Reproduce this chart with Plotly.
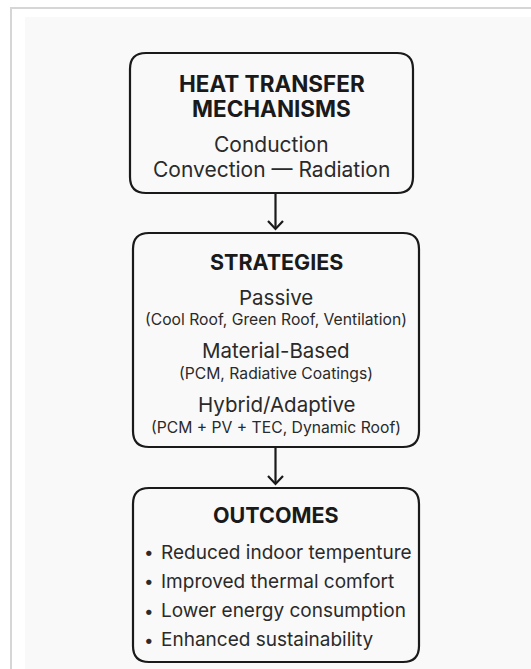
import plotly.graph_objects as go

W, H = 531, 669

# ---- content ----
box_titles = ["HEAT TRANSFER<br>MECHANISMS", "STRATEGIES", "OUTCOMES"]
mech_lines = ["Conduction", "Convection — Radiation"]
strategy_names = ["Passive", "Material-Based", "Hybrid/Adaptive"]
strategy_details = ["(Cool Roof, Green Roof, Ventilation)",
                    "(PCM, Radiative Coatings)",
                    "(PCM + PV + TEC, Dynamic Roof)"]
outcome_items = ["Reduced indoor tempenture", "Improved thermal comfort",
                 "Lower energy consumption", "Enhanced sustainability"]

# ---- layout geometry (pixels, y downward) ----
boxes = [(130, 53, 413, 193), (133, 233, 419, 447), (133, 488, 419, 662)]
FONT = "Inter, Roboto, Arial, sans-serif"
INK = "#1a1a1a"
TXT = "#2a2a2a"

def rrect(x0, y0, x1, y1, r=16):
    return (f"M{x0+r},{y0} L{x1-r},{y0} Q{x1},{y0} {x1},{y0+r} "
            f"L{x1},{y1-r} Q{x1},{y1} {x1-r},{y1} L{x0+r},{y1} "
            f"Q{x0},{y1} {x0},{y1-r} L{x0},{y0+r} Q{x0},{y0} {x0+r},{y0} Z")

shapes = []
# page frame
shapes.append(dict(type="rect", x0=25, y0=17, x1=W + 5, y1=H + 5,
                   line=dict(width=0), fillcolor="#f9f9f9", layer="below"))
shapes.append(dict(type="path", path=f"M11,{H+5} L11,8 L{W+5},8",
                   line=dict(color="#d6d6d6", width=2)))
for b in boxes:
    shapes.append(dict(type="path", path=rrect(*b), line=dict(color=INK, width=2.2),
                       fillcolor="rgba(0,0,0,0)"))

# arrows between boxes
for (a, b) in [(boxes[0], boxes[1]), (boxes[1], boxes[2])]:
    cx = (b[0] + b[2]) / 2 - 0.5
    y_start, y_tip = a[3], b[1] - 4
    shapes.append(dict(type="line", x0=cx, x1=cx, y0=y_start, y1=y_tip,
                       line=dict(color=INK, width=2.2)))
    shapes.append(dict(type="path",
                       path=f"M{cx-7.5},{y_tip-8} L{cx},{y_tip} L{cx+7.5},{y_tip-8}",
                       line=dict(color=INK, width=2.2)))

ann = []
def txt(x, y, s, size, bold=False, xanchor="center", color=INK):
    ann.append(dict(x=x, y=y, text=f"<b>{s}</b>" if bold else s, showarrow=False,
                    xanchor=xanchor, yanchor="middle",
                    font=dict(family=FONT, size=size, color=color)))

# box 1
cx1 = (boxes[0][0] + boxes[0][2]) / 2
txt(cx1, 83, box_titles[0].split("<br>")[0], 22.5, bold=True)
txt(cx1, 108, box_titles[0].split("<br>")[1], 22.5, bold=True)
for y, s in zip([144, 169], mech_lines):
    txt(cx1, y, s, 21, color=TXT)

# box 2
cx2 = (boxes[1][0] + boxes[1][2]) / 2
txt(cx2, 262, box_titles[1], 21.5, bold=True)
for i, (n, d) in enumerate(zip(strategy_names, strategy_details)):
    txt(cx2, 297 + i * 53.5, n, 20.5, color=TXT)
    txt(cx2, 319 + i * 54, d, 15.7, color=TXT)

# box 3
cx3 = (boxes[2][0] + boxes[2][2]) / 2
txt(cx3, 515, box_titles[2], 21.5, bold=True)
for i, s in enumerate(outcome_items):
    y = 552 + i * 29.3
    txt(149, y, "•", 17, color=TXT)
    txt(159, y, s, 19, xanchor="left", color=TXT)

fig = go.Figure()
fig.update_layout(width=W, height=H, margin=dict(l=0, r=0, t=0, b=0),
                  paper_bgcolor="white", plot_bgcolor="white",
                  xaxis=dict(range=[0, W], visible=False, fixedrange=True),
                  yaxis=dict(range=[H, 0], visible=False, fixedrange=True),
                  shapes=shapes, annotations=ann, showlegend=False)
fig.write_html("out.html", config={"displayModeBar": False},
               post_script="document.body.style.margin='0';document.body.style.overflow='hidden';")
